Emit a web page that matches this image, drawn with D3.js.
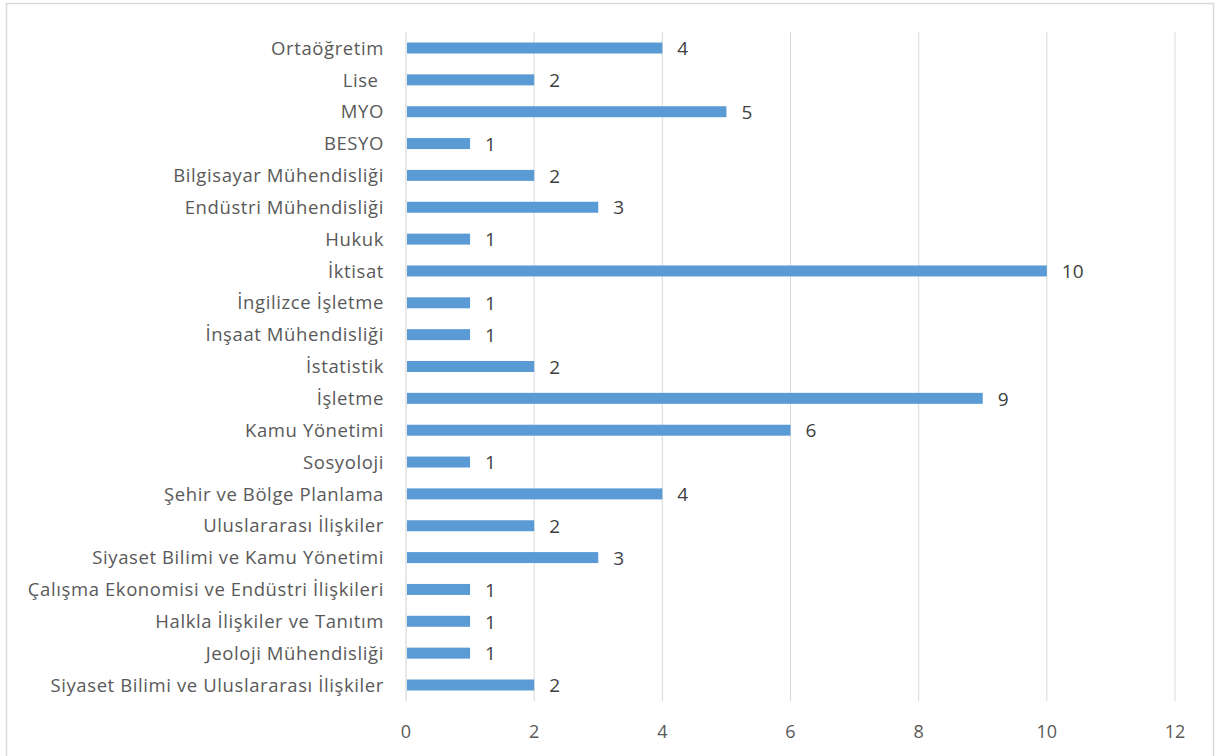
<!DOCTYPE html>
<html>
<head>
<meta charset="utf-8">
<script src="https://cdn.jsdelivr.net/npm/d3@7"></script>
<style>
  body { margin: 0; background: #fff; }
  text { font-family: "Open Sans", "Liberation Sans", sans-serif; }
</style>
</head>
<body>
<script>
const categories = [
  "Ortaöğretim", "Lise ", "MYO", "BESYO", "Bilgisayar Mühendisliği",
  "Endüstri Mühendisliği", "Hukuk", "İktisat", "İngilizce İşletme",
  "İnşaat Mühendisliği", "İstatistik", "İşletme", "Kamu Yönetimi",
  "Sosyoloji", "Şehir ve Bölge Planlama", "Uluslararası İlişkiler",
  "Siyaset Bilimi ve Kamu Yönetimi", "Çalışma Ekonomisi ve Endüstri İlişkileri",
  "Halkla İlişkiler ve Tanıtım", "Jeoloji Mühendisliği",
  "Siyaset Bilimi ve Uluslararası İlişkiler"
];
const values = [4, 2, 5, 1, 2, 3, 1, 10, 1, 1, 2, 9, 6, 1, 4, 2, 3, 1, 1, 1, 2];
const xTicks = [0, 2, 4, 6, 8, 10, 12];

let width = 1215, height = 756;
const margin = {left: 406, right: 40, top: 32, bottom: 55};

const svg = d3.create("svg")
    .attr("width", width)
    .attr("height", height);
document.body.appendChild(svg.node());

svg.append("rect")
    .attr("x", 6.5).attr("y", 3.5)
    .attr("width", 1207).attr("height", 760)
    .attr("fill", "#fff")
    .attr("stroke", "#d9d9d9")
    .attr("stroke-width", 1.5);

const x = d3.scaleLinear().domain([0, 12]).range([margin.left, 1175]);
const y = d3.scaleBand().domain(categories)
    .range([margin.top, height - margin.bottom])
    .paddingInner(0.655).paddingOuter(0.33);

// gridlines
svg.append("g")
    .selectAll("line")
    .data(xTicks)
    .join("line")
    .attr("x1", d => x(d)).attr("x2", d => x(d))
    .attr("y1", margin.top).attr("y2", height - margin.bottom)
    .attr("stroke", d => d === 0 ? "#d0d0d0" : "#d9d9d9")
    .attr("stroke-width", 1);

// tick labels
svg.append("g")
    .selectAll("text")
    .data(xTicks)
    .join("text")
    .attr("x", d => x(d))
    .attr("y", 738)
    .attr("text-anchor", "middle")
    .attr("font-size", 18)
    .attr("fill", "#595959")
    .text(d => d);

// bars
svg.append("g")
    .selectAll("rect")
    .data(categories)
    .join("rect")
    .attr("x", x(0) + 1)
    .attr("y", d => y(d))
    .attr("width", (d, i) => x(values[i]) - x(0) - 1)
    .attr("height", y.bandwidth())
    .attr("fill", "#5b9bd5");

// category labels
svg.append("g")
    .selectAll("text")
    .data(categories)
    .join("text")
    .attr("x", 384)
    .attr("y", d => y(d) + y.bandwidth() / 2)
    .attr("dy", "0.36em")
    .attr("text-anchor", "end")
    .attr("font-size", 18.5)
    .attr("letter-spacing", 0.6)
    .attr("fill", "#595959")
    .style("white-space", "pre")
    .text(d => d);

// value labels
svg.append("g")
    .selectAll("text")
    .data(categories)
    .join("text")
    .attr("x", (d, i) => x(values[i]) + 15)
    .attr("y", d => y(d) + y.bandwidth() / 2)
    .attr("dy", "0.38em")
    .attr("font-size", 19)
    .attr("fill", "#404040")
    .text((d, i) => values[i]);
</script>
</body>
</html>
